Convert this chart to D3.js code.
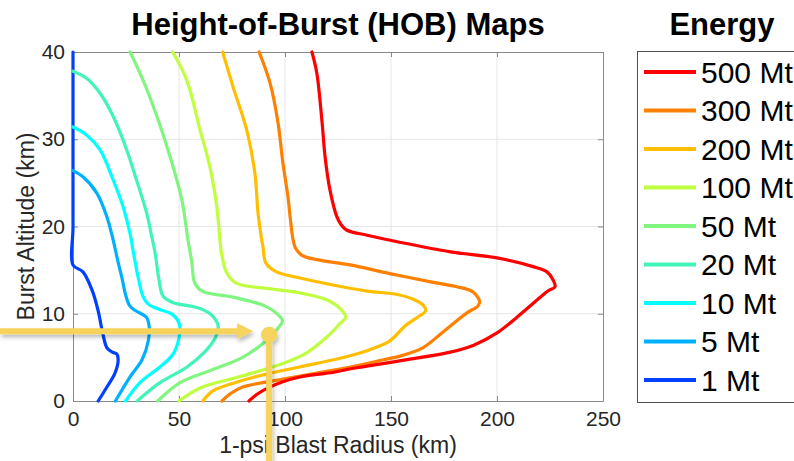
<!DOCTYPE html>
<html><head><meta charset="utf-8">
<script src="https://cdn.jsdelivr.net/npm/d3@7"></script>
<style>
body{margin:0;background:#fff;}
text{font-family:"Liberation Sans",Arial,Helvetica,sans-serif;}
</style>
</head><body>
<svg id="chart" width="794" height="461"></svg>
<script>
// ---- data (radius km, altitude km) ----
const energyLabels = ["1 Mt","5 Mt","10 Mt","20 Mt","50 Mt","100 Mt","200 Mt","300 Mt","500 Mt"];
const hob1Mt = [[0,40],[0,20],[0,15.6],[4.7,14.8],[9,12.7],[11.8,10.4],[14,7.8],[16,6.1],[18.5,5.6],[20.6,5.4],[21.3,4.7],[19.8,3.2],[16,1.6],[11.9,0]];
const hob5Mt = [[0,26.4],[4.7,25.7],[11.3,23.8],[16,21.1],[18.9,18.5],[21,16.2],[23,14.2],[25,12],[26.8,10.9],[29.2,10.4],[34.6,9.6],[35.9,8.6],[35.6,7],[32.5,4.7],[27,2.8],[20,0]];
const hob10Mt = [[0,31.4],[6.4,30.5],[12.7,28.8],[19,25.3],[23.7,22.2],[26.9,19.2],[28.5,17],[30.7,14.2],[33,12],[35.5,11.1],[39.6,10.6],[47,9.9],[50.2,8.8],[50,7.2],[47,5.3],[41,3.9],[31.6,2.1],[24.8,0]];
const hob20Mt = [[0,37.8],[6.4,37],[12.7,35.3],[19,32.6],[25.3,28.8],[30,25.3],[34.8,21.5],[37,19],[38.7,17],[40.5,14],[42.5,12],[47,11.3],[60,10.6],[66,9.7],[68.5,8.5],[67,7.2],[62,5.6],[53.8,3.9],[41,2.1],[30.3,0]];
const hob50Mt = [[26.9,40],[33,36.8],[39.6,32.6],[45.8,28],[51.4,23],[54.2,18.5],[56,16],[57.5,13.5],[61,12.6],[75.5,11.9],[90.5,10.9],[96.7,9.9],[98.8,9.2],[96.2,8.2],[89.6,6.6],[80,5],[66,3.6],[50.5,2.1],[40,0]];
const hob100Mt = [[47,40],[53.6,36.8],[60,31],[64.6,26.8],[67.8,22.3],[69.3,18.5],[70,17],[72.5,14.7],[77,13.5],[91.3,12.9],[107,12.4],[119.6,11.6],[126,10.6],[128.6,9.6],[126,8.9],[119.6,7.3],[110,5.5],[99,4.3],[78.8,2.8],[60,1.5],[50,0]];
const hob200Mt = [[70.6,40],[75.5,36],[82,31],[85.8,26.1],[87.3,21.5],[89,18.5],[89.6,17.7],[91,15.8],[96,14.8],[107,14.1],[122.6,13.3],[138.7,12.6],[153,12.2],[161,11.6],[165.5,10.9],[166.3,10.3],[163.7,9.8],[156.6,8.6],[149.5,6.9],[139,5.8],[126,4.9],[107,3.9],[91.5,3.1],[76.4,2.1],[66,1.15],[61.3,0]];
const hob300Mt = [[87.8,40],[93,36.4],[96.7,31.9],[99,27.3],[101.4,23.4],[102.6,20.7],[103.8,18.5],[105,17.5],[108,16.7],[115,16.2],[130.7,15.6],[149.5,14.6],[170,13.6],[181,13.1],[188.7,12.5],[191.8,11.4],[191,10.9],[185.8,10.1],[178,8.6],[173,7.6],[165,6.1],[155,5.2],[146,4.7],[131,3.9],[115,3.2],[99,2.5],[80,1.6],[74,0.8],[70.3,0]];
const hob500Mt = [[112.7,40],[115,37.6],[117.5,31.9],[118.9,28],[121.2,24.2],[124.5,21.1],[126.5,20.2],[129,19.6],[138.7,19],[154,18.2],[178,17.1],[200,16.4],[217,15.4],[223.6,14.8],[226.4,13.9],[227.4,13.1],[224,12.6],[219,11.6],[209.4,9.6],[200,7.8],[189,6.4],[178,5.6],[154,4.6],[131,3.7],[123,3.3],[107,2.75],[99,2.2],[92,1.5],[87,0.8],[83,0]];
const seriesData = [hob1Mt,hob5Mt,hob10Mt,hob20Mt,hob50Mt,hob100Mt,hob200Mt,hob300Mt,hob500Mt];
const seriesColors = ["#0040ff","#00b0ff","#00ffff","#40f5b5","#80f580","#c0ff40","#ffbf00","#ff8000","#ff0000"];
const xTicks = [0,50,100,150,200,250];
const yTicks = [0,10,20,30,40];
const markerAltitude = 8.0, markerArrowTip = 85, markerPoint = [92.5,7.6];

// ---- drawing ----
const svg = d3.select("#chart");
const L=73,R=603,T=52,B=401;
const x = d3.scaleLinear().domain([0,250]).range([L,R]);
const y = d3.scaleLinear().domain([0,40]).range([B,T]);

const defs = svg.append("defs");
const f = defs.append("filter").attr("id","sh").attr("x","-20%").attr("y","-20%").attr("width","140%").attr("height","160%");
f.append("feDropShadow").attr("dx",1.5).attr("dy",3).attr("stdDeviation",2).attr("flood-color","#000").attr("flood-opacity",0.28);

// grid
const g = svg.append("g");
g.selectAll(".gx").data(xTicks.slice(1,-1)).join("line")
  .attr("x1",d=>x(d)).attr("x2",d=>x(d)).attr("y1",T).attr("y2",B)
  .attr("stroke","#e6e6e6").attr("stroke-width",1);
g.selectAll(".gy").data(yTicks.slice(1,-1)).join("line")
  .attr("y1",d=>y(d)).attr("y2",d=>y(d)).attr("x1",L).attr("x2",R)
  .attr("stroke","#e6e6e6").attr("stroke-width",1);

function styleAxis(sel, labels){
  sel.select(".domain").attr("stroke","#8a8a8a").attr("stroke-width",1);
  sel.selectAll(".tick line").attr("stroke","#8a8a8a");
  sel.selectAll(".tick text").attr("fill","#262626").style("font-size","21px");
  if(!labels) sel.selectAll(".tick text").remove();
}
const axB = svg.append("g").attr("transform",`translate(0,${B})`)
  .call(d3.axisBottom(x).tickValues(xTicks).tickSize(-5).tickSizeOuter(0).tickPadding(10).tickFormat(d3.format("d")));
styleAxis(axB,true);
const axT = svg.append("g").attr("transform",`translate(0,${T})`)
  .call(d3.axisTop(x).tickValues(xTicks).tickSize(-5).tickSizeOuter(0).tickFormat(""));
styleAxis(axT,false);
const axL = svg.append("g").attr("transform",`translate(${L},0)`)
  .call(d3.axisLeft(y).tickValues(yTicks).tickSize(-5).tickSizeOuter(0).tickPadding(8).tickFormat(d3.format("d")));
styleAxis(axL,true);
const axR = svg.append("g").attr("transform",`translate(${R},0)`)
  .call(d3.axisRight(y).tickValues(yTicks).tickSize(-5).tickSizeOuter(0).tickFormat(""));
styleAxis(axR,false);

// curves
const line = d3.line().x(d=>x(d[0])).y(d=>y(d[1])).curve(d3.curveCatmullRom.alpha(0.5));
svg.append("g").selectAll("path").data(seriesData).join("path")
  .attr("d",line).attr("fill","none")
  .attr("stroke",(d,i)=>seriesColors[i]).attr("stroke-width",3.2)
  .attr("stroke-linejoin","round").attr("stroke-linecap","round");

// titles & labels
svg.append("text").attr("x",(L+R)/2).attr("y",35).attr("text-anchor","middle")
  .style("font-size","31px").style("font-weight","bold").attr("fill","#000").text("Height-of-Burst (HOB) Maps");
svg.append("text").attr("x",(L+R)/2).attr("y",452.5).attr("text-anchor","middle")
  .style("font-size","23px").attr("fill","#262626").text("1-psi Blast Radius (km)");
svg.append("text").attr("transform",`translate(34,${(T+B)/2}) rotate(-90)`).attr("text-anchor","middle")
  .style("font-size","23px").attr("fill","#262626").text("Burst Altitude (km)");

// legend
svg.append("text").attr("x",722).attr("y",35).attr("text-anchor","middle")
  .style("font-size","31px").style("font-weight","bold").attr("fill","#000").text("Energy");
svg.append("rect").attr("x",637.5).attr("y",51.5).attr("width",200).attr("height",351)
  .attr("fill","#fff").attr("stroke","#4d4d4d").attr("stroke-width",1);
const order = d3.range(seriesData.length).reverse();
const lg = svg.append("g").selectAll("g").data(order).join("g")
  .attr("transform",(d,i)=>`translate(0,${72+i*38.5})`);
lg.append("line").attr("x1",644).attr("x2",696).attr("y1",0).attr("y2",0)
  .attr("stroke",d=>seriesColors[d]).attr("stroke-width",4);
lg.append("text").attr("x",701).attr("y",10.5).style("font-size","30px").attr("fill","#000").text(d=>energyLabels[d]);

// annotation
const yellow = "#f6d35c";
const ann = svg.append("g").attr("filter","url(#sh)");
ann.append("line").attr("x1",0).attr("x2",x(markerArrowTip)-14).attr("y1",y(markerAltitude)).attr("y2",y(markerAltitude))
  .attr("stroke",yellow).attr("stroke-width",6);
ann.append("path").attr("d",`M${x(markerArrowTip)},${y(markerAltitude)} l-16,-8 l0,16 z`).attr("fill",yellow);
ann.append("line").attr("x1",x(markerPoint[0])).attr("x2",x(markerPoint[0])).attr("y1",y(markerPoint[1])).attr("y2",470)
  .attr("stroke",yellow).attr("stroke-width",6);
ann.append("circle").attr("cx",x(markerPoint[0])).attr("cy",y(markerPoint[1])).attr("r",8).attr("fill",yellow);
</script>
</body></html>
